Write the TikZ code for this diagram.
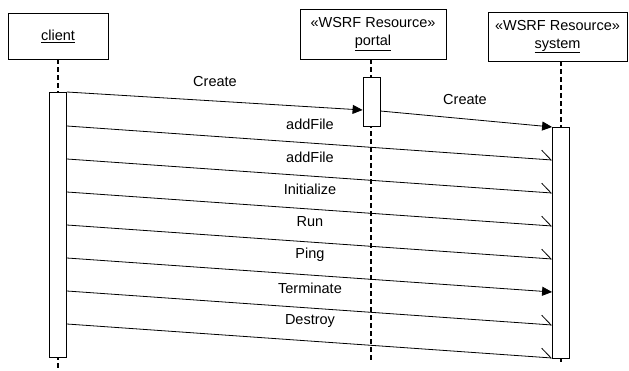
\documentclass[tikz,border=0pt]{standalone}
\usepackage{fontspec}
\setmainfont{Liberation Sans}
\usetikzlibrary{arrows.meta}
\begin{document}
\begin{tikzpicture}[x=1pt,y=-1pt,
  font=\fontsize{14.5}{17}\selectfont,
  head/.style={draw, line width=0.8pt, fill=white, inner sep=0pt, align=center},
  bar/.style={draw, line width=0.8pt, fill=white, inner sep=0pt, minimum width=17pt},
  life/.style={line width=1.6pt, dash pattern=on 5pt off 3pt},
  sync/.style={line width=0.8pt, -{Triangle[length=10pt,width=9pt]}},
  async/.style={line width=0.8pt, -{Straight Barb[left,length=10pt,width=18pt,line width=0.8pt]}},
  lbl/.style={inner sep=0pt}]
\useasboundingbox (0,0) rectangle (629,370);

% heads
\node[head, minimum width=100pt, minimum height=46pt] (chead) at (58,36) {\underline{client}};
\node[head, minimum width=146pt, minimum height=50pt] (phead) at (373,34) {«WSRF Resource»\\[1pt]\underline{portal}};
\node[head, minimum width=139pt, minimum height=49pt] (shead) at (557.5,36.5) {«WSRF Resource»\\[1pt]\underline{system}};

% end coordinates of lifelines
\coordinate (cend) at (58,370);
\coordinate (pend) at (371,360);
\coordinate (send) at (561,362);

% lifelines
\draw[life] (chead.south) -- (cend);
\draw[life] (phead.south -| pend) -- (pend);
\draw[life] (shead.south -| send) -- (send);

% activation bars
\node[bar, minimum height=265pt, anchor=north] (cbar) at (58,92) {};
\node[bar, minimum height=49pt, anchor=north] (pbar) at (371.5,77) {};
\node[bar, minimum height=231pt, anchor=north] (sbar) at (561,127) {};

% messages
\draw[sync]  (cbar.north east) -- (pbar.west |- 0,110);
\draw[sync]  (pbar.east |- 0,111) -- (sbar.north west);
\draw[async] (cbar.east |- 0,126) -- (sbar.west |- 0,160);
\draw[async] (cbar.east |- 0,159) -- (sbar.west |- 0,193);
\draw[async] (cbar.east |- 0,192) -- (sbar.west |- 0,226);
\draw[async] (cbar.east |- 0,225) -- (sbar.west |- 0,259);
\draw[sync]  (cbar.east |- 0,258) -- (sbar.west |- 0,292);
\draw[async] (cbar.east |- 0,291) -- (sbar.west |- 0,325);
\draw[async] (cbar.east |- 0,324) -- (sbar.west |- 0,358);

% labels
\node[lbl] (l1) at (215,82) {Create};
\node[lbl] (l2) at (465,100) {Create};
\node[lbl] (l3) at (310,124) {addFile};
\node[lbl] (l4) at (310,157) {addFile};
\node[lbl] (l5) at (310,189) {Initialize};
\node[lbl] (l6) at (310,222) {Run};
\node[lbl] (l7) at (310,255) {Ping};
\node[lbl] (l8) at (310,288) {Terminate};
\node[lbl] (l9) at (310,321) {Destroy};
\end{tikzpicture}
\end{document}
